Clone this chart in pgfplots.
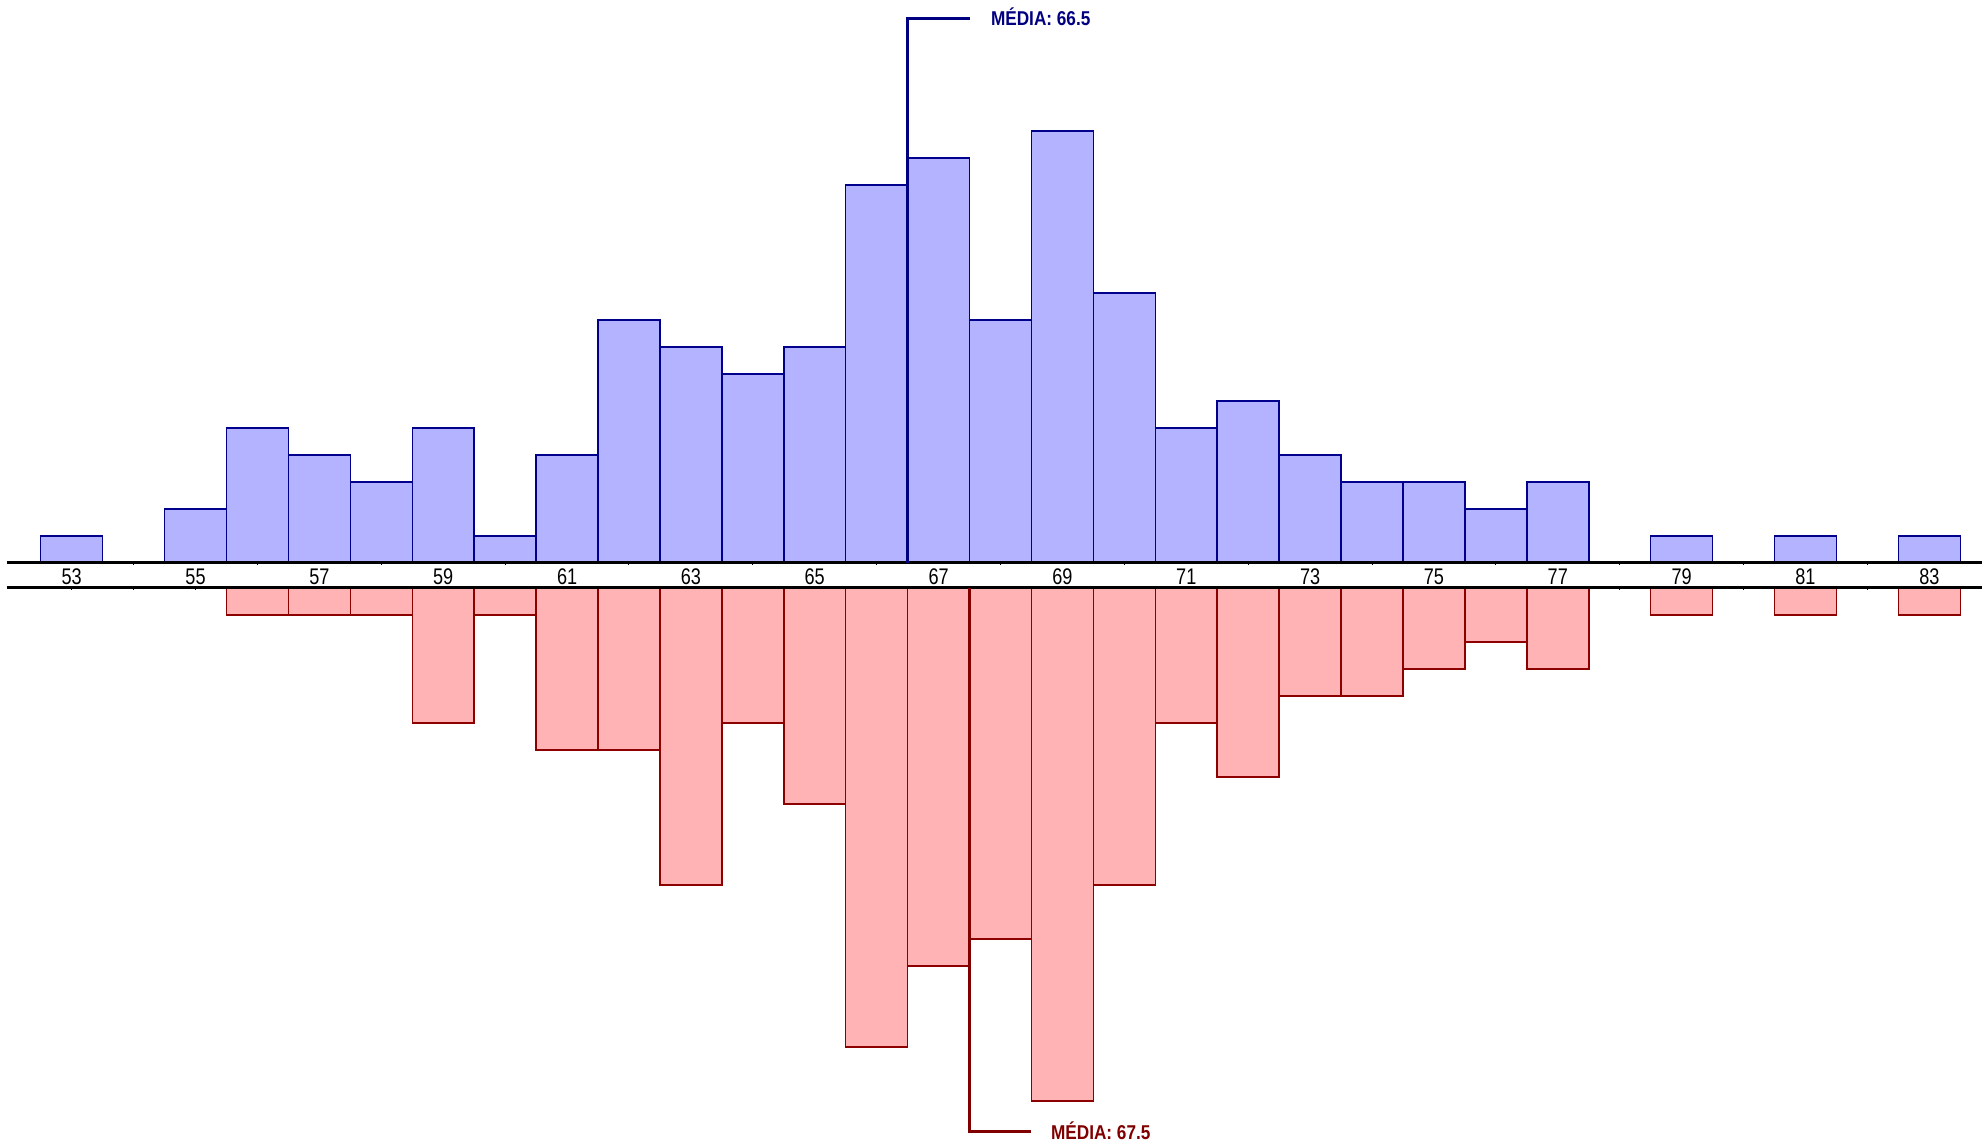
\documentclass[border=0pt]{standalone}
\usepackage{fontspec}
\setmainfont[FakeStretch=0.8]{Liberation Sans}
\newfontfamily\medfont[FakeStretch=0.86]{Liberation Sans}
\usepackage{pgfplots}
\pgfplotsset{compat=1.18}
\usepackage{pgfplotstable}

\definecolor{barblue}{RGB}{179,179,255}
\definecolor{edgeblue}{RGB}{0,0,140}
\definecolor{barred}{RGB}{255,179,181}
\definecolor{edgered}{RGB}{140,0,0}
\definecolor{lblblue}{RGB}{0,0,128}
\definecolor{lblred}{RGB}{128,0,0}

% upper histogram (counts per class)
\pgfplotstableread{
x  n
53 1
55 2
56 5
57 4
58 3
59 5
60 1
61 4
62 9
63 8
64 7
65 8
66 14
67 15
68 9
69 16
70 10
71 5
72 6
73 4
74 3
75 3
76 2
77 3
79 1
81 1
83 1
}\tophist

% lower histogram (counts per class, drawn downward)
\pgfplotstableread{
x  n
56 1
57 1
58 1
59 5
60 1
61 6
62 6
63 11
64 5
65 8
66 17
67 14
68 13
69 19
70 11
71 5
72 7
73 4
74 4
75 3
76 2
77 3
79 1
81 1
83 1
}\bothist

\begin{document}
\begin{tikzpicture}
\pgfplotsset{
  hist/.style={
    scale only axis, width=991pt,
    xmin=51.8421, xmax=83.8511,
    axis y line=none,
    axis line style={draw=none},
    tick align=outside,
    tick style={black, line width=0.5pt},
    clip=false,
  },
}
% upper axis
\begin{axis}[hist,
  at={(0pt,291pt)}, anchor=south west,
  height=281.5pt, ymin=0, ymax=20.8519,
  axis x line=bottom,
  xtick={54,56,...,82}, xticklabels={},
  major tick length=2pt,
]
\addplot[ybar, bar width=1, bar shift=0pt, fill=barblue, draw=edgeblue, line width=0.75pt]
  table[x=x, y=n] {\tophist};
\draw[black, line width=1.5pt] (axis cs:51.95,0) -- (axis cs:83.8511,0);
\draw[lblblue, line width=1.5pt] (axis cs:66.5,0) |- (axis cs:67.51,20.15);
\node[anchor=base west, inner sep=0pt, text=lblblue, font=\medfont\bfseries\fontsize{10}{12}\selectfont]
  at (axis cs:67.84,19.89) {MÉDIA: 66.5};
\end{axis}
% lower axis
\begin{axis}[hist,
  at={(0pt,0pt)}, anchor=south west,
  height=278.5pt, ymin=-20.6296, ymax=0,
  axis x line=top,
  xtick={53,54,...,83},
  xticklabels={53,{},55,{},57,{},59,{},61,{},63,{},65,{},67,{},69,{},71,{},73,{},75,{},77,{},79,{},81,{},83},
  major tick length=1.7pt,
  xticklabel style={font=\fontsize{11.3}{13}\selectfont, anchor=center, yshift=4.9pt},
]
\addplot[ybar, bar width=1, bar shift=0pt, fill=barred, draw=edgered, line width=0.75pt]
  table[x=x, y expr=-\thisrow{n}] {\bothist};
\draw[black, line width=1.5pt] (axis cs:51.95,0) -- (axis cs:83.8511,0);
\draw[lblred, line width=1.5pt] (axis cs:67.5,0) |- (axis cs:68.50,-20.14);
\node[anchor=base west, inner sep=0pt, text=lblred, font=\medfont\bfseries\fontsize{10}{12}\selectfont]
  at (axis cs:68.81,-20.44) {MÉDIA: 67.5};
\end{axis}
\pgfresetboundingbox
\path[use as bounding box] (0pt,0pt) rectangle (991pt,572.5pt);
\end{tikzpicture}
\end{document}
